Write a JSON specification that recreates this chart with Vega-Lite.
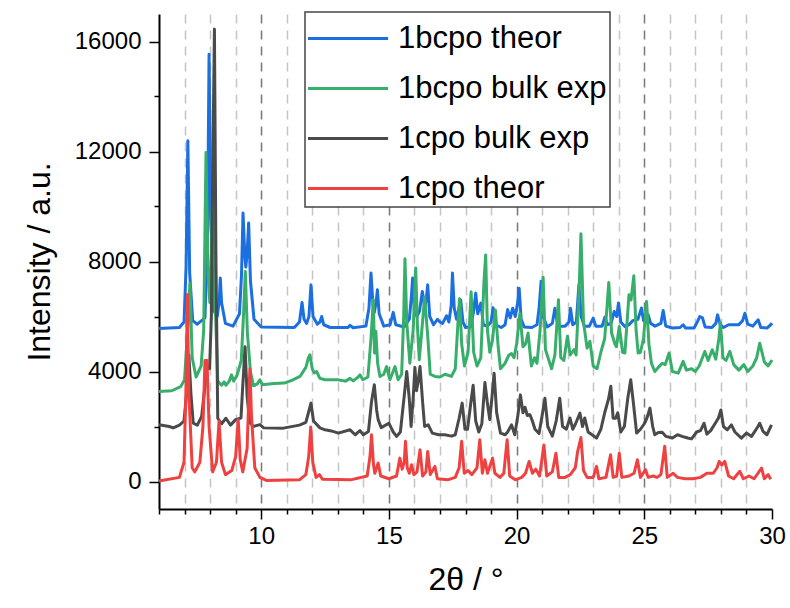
{
  "$schema": "https://vega.github.io/schema/vega-lite/v6.json",
  "width": 613,
  "height": 495,
  "autosize": {"type": "none"},
  "padding": {"left": 159, "top": 14, "right": 18, "bottom": 99},
  "config": {"view": {"stroke": null}, "font": "Liberation Sans", "legend": {"strokeWidth": 1.5}},
  "datasets": {
    "blue": [
      {"x":6.0,"y":5560},{"x":6.8,"y":5600},{"x":6.98,"y":5800},{"x":7.06,"y":7800},{"x":7.13,"y":12390},{"x":7.2,"y":7600},{"x":7.32,"y":5850},{"x":7.5,"y":5720},{"x":7.8,"y":5950},{"x":7.9,"y":9000},{"x":7.96,"y":15540},{"x":8.03,"y":9500},{"x":8.15,"y":6200},{"x":8.28,"y":6000},{"x":8.36,"y":6600},{"x":8.4,"y":7400},{"x":8.45,"y":6500},{"x":8.6,"y":5750},{"x":8.9,"y":5650},{"x":9.15,"y":6100},{"x":9.23,"y":7500},{"x":9.29,"y":9760},{"x":9.36,"y":8200},{"x":9.4,"y":7800},{"x":9.45,"y":8300},{"x":9.51,"y":9400},{"x":9.58,"y":7300},{"x":9.72,"y":5900},{"x":10.0,"y":5620},{"x":11.3,"y":5600},{"x":11.5,"y":5800},{"x":11.6,"y":6510},{"x":11.68,"y":5900},{"x":11.78,"y":5750},{"x":11.87,"y":6000},{"x":11.95,"y":7150},{"x":12.03,"y":6000},{"x":12.2,"y":5720},{"x":12.3,"y":5800},{"x":12.37,"y":6000},{"x":12.45,"y":5700},{"x":12.7,"y":5600},{"x":13.4,"y":5600},{"x":13.48,"y":5680},{"x":13.6,"y":5590},{"x":14.1,"y":5650},{"x":14.22,"y":6300},{"x":14.3,"y":7580},{"x":14.38,"y":6400},{"x":14.43,"y":6150},{"x":14.5,"y":6500},{"x":14.55,"y":6970},{"x":14.62,"y":6100},{"x":14.8,"y":5650},{"x":15.05,"y":5700},{"x":15.17,"y":6150},{"x":15.27,"y":5700},{"x":15.6,"y":5620},{"x":15.8,"y":5900},{"x":15.88,"y":6700},{"x":15.93,"y":7400},{"x":16.0,"y":6200},{"x":16.1,"y":6000},{"x":16.2,"y":6200},{"x":16.31,"y":6910},{"x":16.4,"y":6350},{"x":16.46,"y":6600},{"x":16.52,"y":7150},{"x":16.6,"y":6000},{"x":16.75,"y":5700},{"x":16.9,"y":5900},{"x":17.0,"y":5800},{"x":17.1,"y":5750},{"x":17.26,"y":6025},{"x":17.35,"y":5800},{"x":17.44,"y":6400},{"x":17.49,"y":7580},{"x":17.56,"y":6300},{"x":17.65,"y":5900},{"x":17.81,"y":6600},{"x":17.9,"y":5800},{"x":18.0,"y":5600},{"x":18.2,"y":5620},{"x":18.32,"y":6200},{"x":18.4,"y":6850},{"x":18.48,"y":6100},{"x":18.6,"y":6487},{"x":18.7,"y":5700},{"x":18.85,"y":5650},{"x":19.0,"y":5800},{"x":19.08,"y":6320},{"x":19.18,"y":5700},{"x":19.4,"y":5600},{"x":19.55,"y":5700},{"x":19.65,"y":6250},{"x":19.75,"y":5950},{"x":19.85,"y":6300},{"x":19.95,"y":6000},{"x":20.04,"y":6500},{"x":20.1,"y":7030},{"x":20.18,"y":5900},{"x":20.3,"y":5620},{"x":20.6,"y":5600},{"x":20.8,"y":5700},{"x":20.88,"y":6300},{"x":20.96,"y":7280},{"x":21.04,"y":6000},{"x":21.2,"y":5620},{"x":21.4,"y":5750},{"x":21.5,"y":6300},{"x":21.62,"y":5650},{"x":21.9,"y":5650},{"x":22.05,"y":5800},{"x":22.11,"y":6300},{"x":22.2,"y":5700},{"x":22.34,"y":5800},{"x":22.44,"y":7150},{"x":22.53,"y":6000},{"x":22.65,"y":5650},{"x":22.85,"y":5650},{"x":23.0,"y":5940},{"x":23.1,"y":5650},{"x":23.35,"y":5650},{"x":23.46,"y":5980},{"x":23.55,"y":5700},{"x":23.7,"y":5750},{"x":23.82,"y":6180},{"x":23.92,"y":6000},{"x":23.99,"y":6490},{"x":24.08,"y":5800},{"x":24.24,"y":5640},{"x":24.4,"y":5700},{"x":24.55,"y":5850},{"x":24.75,"y":5900},{"x":24.89,"y":6310},{"x":24.97,"y":5850},{"x":25.06,"y":5900},{"x":25.15,"y":6060},{"x":25.25,"y":5750},{"x":25.42,"y":5650},{"x":25.65,"y":5750},{"x":25.74,"y":6220},{"x":25.84,"y":5650},{"x":26.1,"y":5580},{"x":26.4,"y":5600},{"x":26.52,"y":5700},{"x":26.62,"y":5580},{"x":26.95,"y":5580},{"x":27.1,"y":5850},{"x":27.17,"y":6000},{"x":27.28,"y":5950},{"x":27.38,"y":5620},{"x":27.65,"y":5600},{"x":27.8,"y":5750},{"x":27.87,"y":6060},{"x":27.97,"y":5700},{"x":28.1,"y":5600},{"x":28.3,"y":5700},{"x":28.5,"y":5700},{"x":28.7,"y":5700},{"x":28.85,"y":5850},{"x":28.94,"y":6120},{"x":29.05,"y":5720},{"x":29.25,"y":5650},{"x":29.46,"y":5880},{"x":29.56,"y":5600},{"x":29.8,"y":5580},{"x":29.95,"y":5700},{"x":30.0,"y":5760}
    ],
    "green": [
      {"x":6.0,"y":3270},{"x":6.5,"y":3300},{"x":6.85,"y":3450},{"x":7.0,"y":3700},{"x":7.12,"y":5500},{"x":7.21,"y":7200},{"x":7.3,"y":4500},{"x":7.45,"y":3800},{"x":7.65,"y":4200},{"x":7.75,"y":5500},{"x":7.84,"y":11960},{"x":7.92,"y":7500},{"x":7.99,"y":6500},{"x":8.06,"y":8500},{"x":8.13,"y":12670},{"x":8.2,"y":6500},{"x":8.3,"y":3650},{"x":8.45,"y":3500},{"x":8.55,"y":3620},{"x":8.62,"y":3500},{"x":8.75,"y":3650},{"x":8.84,"y":3880},{"x":8.92,"y":3650},{"x":9.05,"y":3850},{"x":9.13,"y":4100},{"x":9.22,"y":4400},{"x":9.3,"y":5900},{"x":9.38,"y":7640},{"x":9.46,"y":5400},{"x":9.58,"y":4000},{"x":9.7,"y":3480},{"x":9.85,"y":3550},{"x":9.95,"y":3700},{"x":10.05,"y":3520},{"x":10.5,"y":3560},{"x":10.9,"y":3580},{"x":11.2,"y":3680},{"x":11.52,"y":3820},{"x":11.75,"y":4150},{"x":11.85,"y":4500},{"x":11.91,"y":4610},{"x":12.0,"y":4100},{"x":12.08,"y":3950},{"x":12.17,"y":4000},{"x":12.3,"y":3750},{"x":12.5,"y":3700},{"x":13.0,"y":3700},{"x":13.3,"y":3650},{"x":13.48,"y":3750},{"x":13.6,"y":3660},{"x":13.8,"y":3800},{"x":13.87,"y":3880},{"x":13.98,"y":3700},{"x":14.18,"y":3800},{"x":14.3,"y":5200},{"x":14.39,"y":6610},{"x":14.44,"y":4670},{"x":14.49,"y":5460},{"x":14.56,"y":4300},{"x":14.65,"y":3820},{"x":14.8,"y":3900},{"x":14.91,"y":4180},{"x":15.04,"y":3700},{"x":15.24,"y":4180},{"x":15.36,"y":3700},{"x":15.5,"y":3900},{"x":15.58,"y":6000},{"x":15.63,"y":8100},{"x":15.7,"y":5800},{"x":15.82,"y":4300},{"x":15.95,"y":5500},{"x":16.05,"y":7760},{"x":16.12,"y":5600},{"x":16.19,"y":4430},{"x":16.3,"y":5600},{"x":16.4,"y":6700},{"x":16.52,"y":5300},{"x":16.62,"y":3900},{"x":16.8,"y":3820},{"x":17.0,"y":3800},{"x":17.2,"y":3900},{"x":17.45,"y":3820},{"x":17.6,"y":4100},{"x":17.7,"y":5700},{"x":17.77,"y":6650},{"x":17.85,"y":5000},{"x":17.96,"y":4200},{"x":18.1,"y":4700},{"x":18.22,"y":6900},{"x":18.32,"y":4700},{"x":18.45,"y":4200},{"x":18.6,"y":4500},{"x":18.72,"y":7200},{"x":18.79,"y":8240},{"x":18.86,"y":5500},{"x":18.95,"y":4700},{"x":19.06,"y":5150},{"x":19.17,"y":6240},{"x":19.28,"y":4900},{"x":19.37,"y":4100},{"x":19.55,"y":4300},{"x":19.7,"y":4600},{"x":19.8,"y":4650},{"x":19.9,"y":4500},{"x":20.0,"y":5000},{"x":20.13,"y":6120},{"x":20.25,"y":4900},{"x":20.35,"y":5000},{"x":20.45,"y":5400},{"x":20.58,"y":4200},{"x":20.7,"y":4500},{"x":20.8,"y":4300},{"x":20.92,"y":5500},{"x":21.04,"y":7430},{"x":21.13,"y":4800},{"x":21.37,"y":4100},{"x":21.5,"y":4600},{"x":21.64,"y":6610},{"x":21.73,"y":4500},{"x":21.85,"y":4400},{"x":21.99,"y":5280},{"x":22.1,"y":4600},{"x":22.25,"y":4800},{"x":22.33,"y":4600},{"x":22.45,"y":7000},{"x":22.52,"y":9010},{"x":22.62,"y":5800},{"x":22.76,"y":4850},{"x":22.87,"y":5100},{"x":23.0,"y":4200},{"x":23.15,"y":4100},{"x":23.3,"y":4700},{"x":23.45,"y":5200},{"x":23.61,"y":7240},{"x":23.72,"y":5400},{"x":23.85,"y":5000},{"x":23.91,"y":4900},{"x":24.02,"y":5640},{"x":24.15,"y":4700},{"x":24.24,"y":4670},{"x":24.4,"y":6790},{"x":24.48,"y":6600},{"x":24.59,"y":7480},{"x":24.68,"y":5500},{"x":24.76,"y":4670},{"x":24.85,"y":4700},{"x":24.97,"y":5200},{"x":25.09,"y":6550},{"x":25.18,"y":5000},{"x":25.28,"y":4300},{"x":25.41,"y":4000},{"x":25.55,"y":4150},{"x":25.7,"y":4300},{"x":25.82,"y":4250},{"x":25.97,"y":4670},{"x":26.1,"y":4000},{"x":26.33,"y":3940},{"x":26.52,"y":4370},{"x":26.65,"y":4050},{"x":26.85,"y":4100},{"x":27.0,"y":4000},{"x":27.15,"y":4200},{"x":27.37,"y":4730},{"x":27.5,"y":4400},{"x":27.66,"y":4790},{"x":27.8,"y":4450},{"x":27.92,"y":5200},{"x":27.98,"y":5780},{"x":28.08,"y":4500},{"x":28.2,"y":4400},{"x":28.35,"y":4730},{"x":28.5,"y":4250},{"x":28.7,"y":4050},{"x":28.9,"y":4250},{"x":29.05,"y":4000},{"x":29.25,"y":4200},{"x":29.4,"y":4500},{"x":29.52,"y":5030},{"x":29.7,"y":4350},{"x":29.85,"y":4200},{"x":30.0,"y":4420}
    ],
    "gray": [
      {"x":6.0,"y":2060},{"x":6.4,"y":2000},{"x":6.56,"y":1950},{"x":6.8,"y":2050},{"x":6.98,"y":2200},{"x":7.08,"y":3200},{"x":7.17,"y":4600},{"x":7.25,"y":3200},{"x":7.34,"y":2120},{"x":7.5,"y":2050},{"x":7.67,"y":2370},{"x":7.78,"y":3300},{"x":7.88,"y":4200},{"x":7.98,"y":4100},{"x":8.05,"y":6000},{"x":8.1,"y":11000},{"x":8.17,"y":16450},{"x":8.23,"y":8000},{"x":8.3,"y":2300},{"x":8.45,"y":2100},{"x":8.62,"y":2300},{"x":8.8,"y":2050},{"x":9.0,"y":2250},{"x":9.21,"y":2310},{"x":9.28,"y":3500},{"x":9.37,"y":4900},{"x":9.45,"y":3100},{"x":9.55,"y":2150},{"x":9.69,"y":2000},{"x":9.95,"y":2070},{"x":10.1,"y":1950},{"x":10.87,"y":1940},{"x":11.5,"y":2050},{"x":11.75,"y":2150},{"x":11.85,"y":2500},{"x":11.95,"y":2850},{"x":12.05,"y":2200},{"x":12.3,"y":1950},{"x":12.5,"y":1880},{"x":12.75,"y":1840},{"x":13.02,"y":1760},{"x":13.48,"y":1880},{"x":13.68,"y":1700},{"x":13.87,"y":1850},{"x":14.0,"y":1700},{"x":14.2,"y":1820},{"x":14.32,"y":2900},{"x":14.43,"y":3520},{"x":14.52,"y":2600},{"x":14.58,"y":2250},{"x":14.7,"y":1960},{"x":15.0,"y":2120},{"x":15.17,"y":1800},{"x":15.3,"y":1640},{"x":15.45,"y":1800},{"x":15.6,"y":3100},{"x":15.7,"y":4000},{"x":15.8,"y":3000},{"x":15.87,"y":2000},{"x":15.95,"y":3000},{"x":16.02,"y":4150},{"x":16.08,"y":3300},{"x":16.14,"y":3600},{"x":16.22,"y":4180},{"x":16.32,"y":2900},{"x":16.4,"y":2000},{"x":16.54,"y":2060},{"x":16.7,"y":1760},{"x":16.95,"y":1700},{"x":17.19,"y":1700},{"x":17.45,"y":1650},{"x":17.6,"y":1700},{"x":17.75,"y":2300},{"x":17.87,"y":2850},{"x":17.98,"y":1900},{"x":18.08,"y":1900},{"x":18.2,"y":2800},{"x":18.3,"y":3500},{"x":18.4,"y":2200},{"x":18.52,"y":1800},{"x":18.64,"y":2100},{"x":18.76,"y":3600},{"x":18.85,"y":2900},{"x":18.95,"y":2250},{"x":19.03,"y":3000},{"x":19.12,"y":3940},{"x":19.22,"y":2500},{"x":19.37,"y":1760},{"x":19.55,"y":1700},{"x":19.65,"y":1800},{"x":19.8,"y":2060},{"x":19.93,"y":1700},{"x":20.05,"y":2400},{"x":20.15,"y":3150},{"x":20.25,"y":2500},{"x":20.33,"y":2700},{"x":20.42,"y":2400},{"x":20.52,"y":2430},{"x":20.62,"y":2200},{"x":20.72,"y":1900},{"x":20.88,"y":1750},{"x":21.0,"y":2400},{"x":21.11,"y":3030},{"x":21.22,"y":2000},{"x":21.4,"y":1650},{"x":21.55,"y":2200},{"x":21.69,"y":3030},{"x":21.8,"y":2000},{"x":21.95,"y":1900},{"x":22.09,"y":2310},{"x":22.2,"y":1900},{"x":22.31,"y":2100},{"x":22.48,"y":2490},{"x":22.58,"y":2000},{"x":22.67,"y":2310},{"x":22.8,"y":1800},{"x":23.13,"y":1580},{"x":23.3,"y":1900},{"x":23.45,"y":2500},{"x":23.6,"y":3000},{"x":23.69,"y":3460},{"x":23.78,"y":2300},{"x":23.88,"y":2300},{"x":23.96,"y":2500},{"x":24.08,"y":1800},{"x":24.22,"y":2000},{"x":24.35,"y":3000},{"x":24.47,"y":3700},{"x":24.58,"y":2800},{"x":24.7,"y":1760},{"x":24.85,"y":1900},{"x":25.0,"y":2100},{"x":25.1,"y":2300},{"x":25.22,"y":2670},{"x":25.33,"y":2000},{"x":25.41,"y":1700},{"x":25.55,"y":1780},{"x":25.7,"y":1790},{"x":25.85,"y":1640},{"x":26.1,"y":1580},{"x":26.3,"y":1700},{"x":26.48,"y":1640},{"x":26.7,"y":1580},{"x":26.85,"y":1550},{"x":27.05,"y":1800},{"x":27.2,"y":1850},{"x":27.34,"y":2120},{"x":27.45,"y":1720},{"x":27.6,"y":1850},{"x":27.9,"y":2300},{"x":28.0,"y":2600},{"x":28.1,"y":2000},{"x":28.25,"y":1880},{"x":28.41,"y":2060},{"x":28.55,"y":1800},{"x":28.8,"y":1580},{"x":29.0,"y":1760},{"x":29.2,"y":1640},{"x":29.45,"y":2000},{"x":29.52,"y":2120},{"x":29.65,"y":1820},{"x":29.8,"y":1700},{"x":29.98,"y":2060}
    ],
    "red": [
      {"x":6.0,"y":20},{"x":6.8,"y":150},{"x":6.98,"y":700},{"x":7.06,"y":3500},{"x":7.11,"y":6800},{"x":7.17,"y":3200},{"x":7.3,"y":500},{"x":7.4,"y":350},{"x":7.6,"y":700},{"x":7.72,"y":2000},{"x":7.8,"y":4400},{"x":7.88,"y":4400},{"x":7.96,"y":2000},{"x":8.1,"y":350},{"x":8.25,"y":700},{"x":8.35,"y":2200},{"x":8.45,"y":700},{"x":8.6,"y":250},{"x":8.85,"y":400},{"x":9.0,"y":900},{"x":9.1,"y":2250},{"x":9.18,"y":800},{"x":9.28,"y":350},{"x":9.45,"y":1200},{"x":9.52,"y":3200},{"x":9.56,"y":4100},{"x":9.62,"y":2400},{"x":9.75,"y":500},{"x":9.95,"y":150},{"x":10.2,"y":40},{"x":11.5,"y":60},{"x":11.75,"y":250},{"x":11.86,"y":900},{"x":11.94,"y":1980},{"x":12.02,"y":700},{"x":12.15,"y":150},{"x":12.28,"y":250},{"x":12.4,"y":80},{"x":13.5,"y":60},{"x":14.15,"y":200},{"x":14.26,"y":900},{"x":14.32,"y":1700},{"x":14.4,"y":600},{"x":14.45,"y":300},{"x":14.58,"y":670},{"x":14.68,"y":200},{"x":15.0,"y":100},{"x":15.3,"y":200},{"x":15.43,"y":850},{"x":15.52,"y":450},{"x":15.6,"y":700},{"x":15.65,"y":1460},{"x":15.72,"y":500},{"x":15.8,"y":300},{"x":15.89,"y":610},{"x":15.98,"y":250},{"x":16.1,"y":350},{"x":16.22,"y":1150},{"x":16.32,"y":200},{"x":16.45,"y":350},{"x":16.52,"y":1090},{"x":16.62,"y":250},{"x":16.8,"y":550},{"x":16.9,"y":100},{"x":17.3,"y":60},{"x":17.6,"y":150},{"x":17.75,"y":500},{"x":17.85,"y":1460},{"x":17.95,"y":300},{"x":18.1,"y":400},{"x":18.25,"y":250},{"x":18.45,"y":500},{"x":18.56,"y":1520},{"x":18.66,"y":300},{"x":18.76,"y":790},{"x":18.86,"y":300},{"x":19.06,"y":850},{"x":19.15,"y":300},{"x":19.35,"y":150},{"x":19.5,"y":300},{"x":19.63,"y":1520},{"x":19.73,"y":200},{"x":19.95,"y":60},{"x":20.2,"y":150},{"x":20.35,"y":300},{"x":20.49,"y":730},{"x":20.62,"y":300},{"x":20.75,"y":450},{"x":20.9,"y":200},{"x":21.07,"y":1330},{"x":21.18,"y":200},{"x":21.4,"y":350},{"x":21.54,"y":1030},{"x":21.65,"y":150},{"x":21.9,"y":150},{"x":22.1,"y":250},{"x":22.3,"y":500},{"x":22.39,"y":1090},{"x":22.52,"y":1600},{"x":22.62,"y":400},{"x":22.76,"y":150},{"x":23.0,"y":150},{"x":23.13,"y":550},{"x":23.22,"y":100},{"x":23.5,"y":150},{"x":23.68,"y":970},{"x":23.78,"y":150},{"x":23.92,"y":200},{"x":24.02,"y":1030},{"x":24.12,"y":150},{"x":24.4,"y":200},{"x":24.6,"y":300},{"x":24.73,"y":790},{"x":24.85,"y":150},{"x":25.05,"y":430},{"x":25.15,"y":150},{"x":25.35,"y":200},{"x":25.5,"y":150},{"x":25.65,"y":250},{"x":25.8,"y":1280},{"x":25.9,"y":150},{"x":26.13,"y":300},{"x":26.3,"y":150},{"x":26.6,"y":100},{"x":26.9,"y":100},{"x":27.2,"y":150},{"x":27.45,"y":300},{"x":27.7,"y":300},{"x":27.85,"y":500},{"x":27.93,"y":730},{"x":28.03,"y":600},{"x":28.15,"y":730},{"x":28.3,"y":200},{"x":28.5,"y":100},{"x":28.74,"y":370},{"x":28.88,"y":100},{"x":29.1,"y":200},{"x":29.3,"y":100},{"x":29.59,"y":490},{"x":29.7,"y":100},{"x":29.85,"y":250},{"x":29.95,"y":80}
    ]
  },
  "encoding": {
    "x": {
      "field": "x",
      "type": "quantitative",
      "scale": {"domain": [6, 30], "nice": false, "zero": false},
      "axis": {
        "values": [6,7,8,9,10,11,12,13,14,15,16,17,18,19,20,21,22,23,24,25,26,27,28,29,30],
        "labelExpr": "datum.value % 5 === 0 && datum.value >= 10 ? datum.label : ''",
        "tickSize": {"condition": {"test": "datum.value % 5 === 0", "value": 10}, "value": 5},
        "tickWidth": 1.5,
        "tickColor": "#000",
        "domainColor": "#000",
        "domainWidth": 2,
        "grid": true,
        "gridDash": [9, 7],
        "gridWidth": 1.5,
        "gridColor": {"condition": {"test": "datum.value % 5 === 0", "value": "#777777"}, "value": "#c4c4c4"},
        "gridOpacity": {"condition": {"test": "datum.value === 6 || datum.value === 30", "value": 0}, "value": 1},
        "labelFontSize": 24,
        "labelColor": "#000",
        "labelPadding": 5,
        "labelFlush": false,
        "title": "2θ / °",
        "titleFontSize": 32,
        "titleFontWeight": "normal",
        "titleColor": "#000",
        "titlePadding": 16
      }
    },
    "y": {
      "field": "y",
      "type": "quantitative",
      "scale": {"domain": [-1000, 17000], "nice": false, "zero": false},
      "axis": {
        "values": [0,2000,4000,6000,8000,10000,12000,14000,16000],
        "format": "d",
        "labelExpr": "datum.value % 4000 === 0 ? datum.label : ''",
        "tickSize": {"condition": {"test": "datum.value % 4000 === 0", "value": 10}, "value": 5},
        "tickWidth": 1.5,
        "tickColor": "#000",
        "domainColor": "#000",
        "domainWidth": 2,
        "grid": false,
        "labelFontSize": 24,
        "labelColor": "#000",
        "labelPadding": 8,
        "title": "Intensity / a.u.",
        "titleFontSize": 32,
        "titleFontWeight": "normal",
        "titleColor": "#000",
        "titlePadding": 18
      }
    }
  },
  "layer": [
    {
      "data": {"name": "blue"},
      "mark": {"type": "line", "strokeWidth": 3, "strokeJoin": "round"},
      "encoding": {
        "color": {
          "datum": "1bcpo theor",
          "scale": {
            "domain": ["1bcpo theor", "1bcpo bulk exp", "1cpo bulk exp", "1cpo theor"],
            "range": ["#1b6fe0", "#38ae6b", "#4a4a4a", "#f04141"]
          },
          "legend": {
            "orient": "none",
            "legendX": 146,
            "legendY": -2,
            "title": null,
            "symbolType": "M0,0H3.64",
            "symbolSize": 1936,
            "symbolStrokeWidth": 3,
            "symbolOffset": -23.5,
            "labelFontSize": 31,
            "labelColor": "#000",
            "labelOffset": 66.5,
            "labelLimit": 400,
            "rowPadding": 11,
            "padding": 3,
            "fillColor": "#ffffff",
            "strokeColor": "#444444"
          }
        }
      }
    },
    {
      "data": {"name": "green"},
      "mark": {"type": "line", "strokeWidth": 3, "strokeJoin": "round"},
      "encoding": {"color": {"datum": "1bcpo bulk exp"}}
    },
    {
      "data": {"name": "gray"},
      "mark": {"type": "line", "strokeWidth": 3, "strokeJoin": "round"},
      "encoding": {"color": {"datum": "1cpo bulk exp"}}
    },
    {
      "data": {"name": "red"},
      "mark": {"type": "line", "strokeWidth": 3, "strokeJoin": "round"},
      "encoding": {"color": {"datum": "1cpo theor"}}
    }
  ]
}
